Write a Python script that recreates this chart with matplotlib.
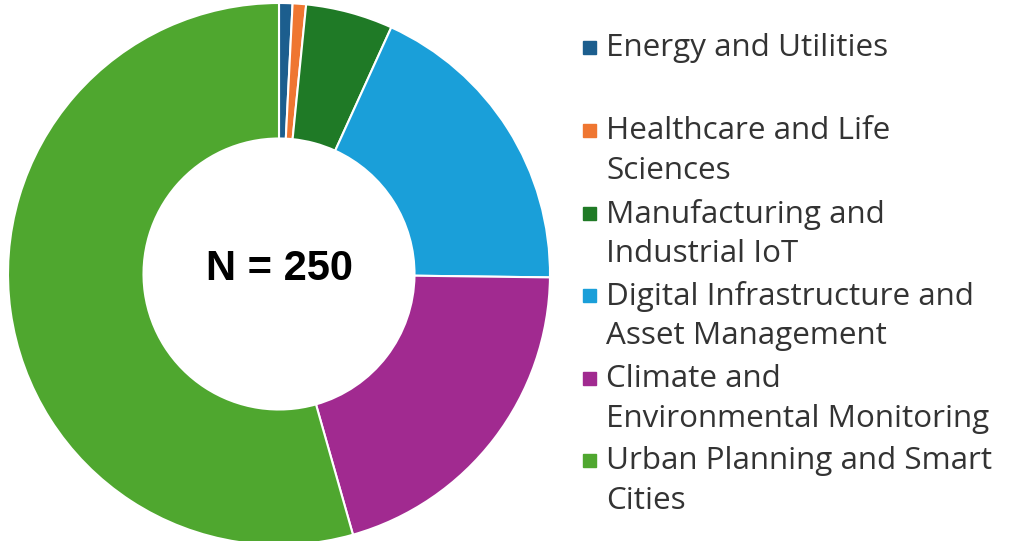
import matplotlib.pyplot as plt
from matplotlib.patches import Rectangle

# survey sectors (N = 250), clockwise from 12 o'clock
labels = [
    "Energy and Utilities",
    "Healthcare and Life\nSciences",
    "Manufacturing and\nIndustrial IoT",
    "Digital Infrastructure and\nAsset Management",
    "Climate and\nEnvironmental Monitoring",
    "Urban Planning and Smart\nCities",
]
counts = [2, 2, 13, 46, 51, 136]
colors = ["#1c5e8e", "#ef7631", "#1f7a26", "#1a9fd9", "#a12a90", "#4fa72f"]

W, H = 1015, 541
fig = plt.figure(figsize=(W / 100, H / 100), dpi=100)

# donut
cx, cy, r = 279, 274, 271
ax = fig.add_axes([(cx - r) / W, (H - cy - r) / H, 2 * r / W, 2 * r / H])
ax.pie(counts, colors=colors, startangle=90, counterclock=False,
       wedgeprops=dict(width=0.5, edgecolor="white", linewidth=1.5))
ax.set_xlim(-1, 1)
ax.set_ylim(-1, 1)
ax.set_aspect("equal")
ax.axis("off")
ax.text(0, 0.02, "N = 250", ha="center", va="center", fontsize=30,
        fontweight="bold", family="Liberation Sans", color="black")

# legend, drawn by hand so the marker sits on the first line
first_line_y = [48, 131, 214, 296, 379, 461]
line_gap = 40
for lab, col, y0 in zip(labels, colors, first_line_y):
    fig.patches.append(Rectangle((583 / W, 1 - (y0 + 6) / H), 13 / W, 13 / H,
                                 transform=fig.transFigure, color=col))
    for i, line in enumerate(lab.split("\n")):
        fig.text(606 / W, 1 - (y0 + i * line_gap) / H, line, ha="left",
                 va="center", fontsize=22.6, family="Open Sans", color="#333333")

fig.savefig("out.png", dpi=100)
